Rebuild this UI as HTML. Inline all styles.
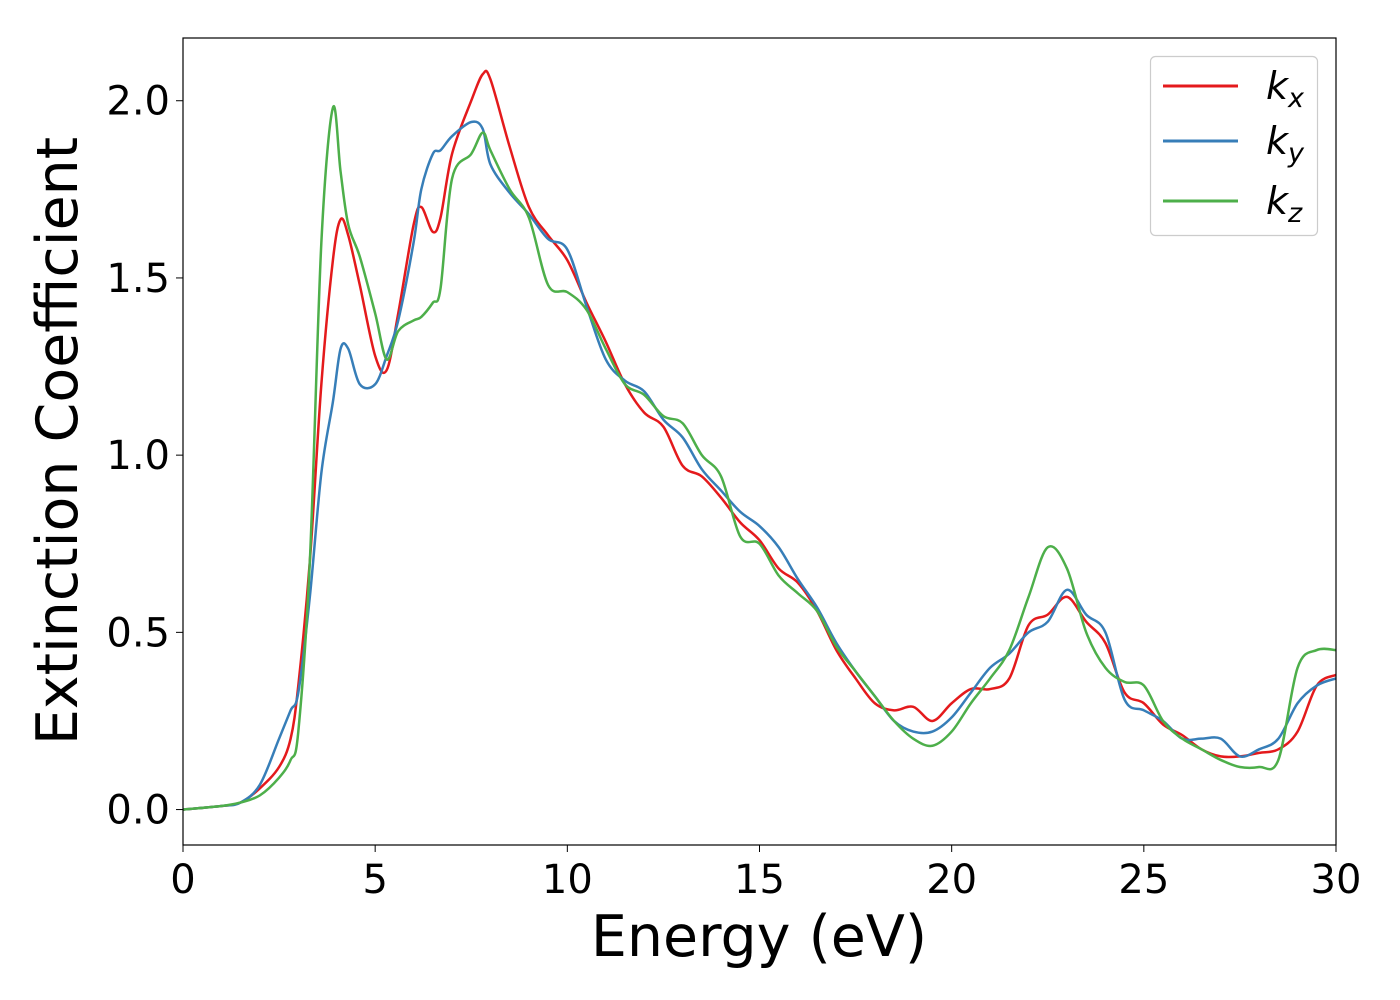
<!DOCTYPE html>
<html><head><meta charset="utf-8"><style>
body{margin:0;background:#fff;}
svg{display:block;font-family:"DejaVu Sans","Liberation Sans",sans-serif;}
</style></head><body>
<svg id="chart" width="1400" height="1000">
<rect x="183" y="38" width="1153" height="807" fill="#fff"/>
<g id="series"></g>
<rect x="183" y="38" width="1153" height="807" fill="none" stroke="#000" stroke-width="1.2"/>
<g id="xticks"></g>
<g id="yticks"></g>
<text x="759" y="956" font-size="57" text-anchor="middle">Energy (eV)</text>
<text transform="translate(77,441) rotate(-90)" font-size="57" text-anchor="middle">Extinction Coefficient</text>
<g>
<rect x="1150.5" y="56.5" width="167" height="179" rx="5" fill="#fff" stroke="#ccc" stroke-width="1.2"/>
<line x1="1163" y1="86" x2="1238" y2="86" stroke="#e41a1c" stroke-width="3"/>
<text x="1266" y="99" font-size="38" font-style="italic">k<tspan font-size="27" dy="8">x</tspan></text>
<line x1="1163" y1="141" x2="1238" y2="141" stroke="#377eb8" stroke-width="3"/>
<text x="1266" y="154" font-size="38" font-style="italic">k<tspan font-size="27" dy="8">y</tspan></text>
<line x1="1163" y1="201" x2="1238" y2="201" stroke="#4daf4a" stroke-width="3"/>
<text x="1266" y="214" font-size="38" font-style="italic">k<tspan font-size="27" dy="8">z</tspan></text>
</g>
</svg>
<script>
const energy=[0,1,1.5,2,2.5,2.8,3,3.3,3.6,3.9,4.1,4.3,4.6,5,5.3,5.6,6,6.2,6.5,6.7,7,7.5,7.8,8,8.5,9,9.5,10,10.5,11,11.5,12,12.5,13,13.5,14,14.5,15,15.5,16,16.5,17,17.5,18,18.5,19,19.5,20,20.5,21,21.5,22,22.5,23,23.5,24,24.5,25,25.5,26,26.5,27,27.5,28,28.5,29,29.5,30];
const kx=[0,0.01,0.02,0.06,0.12,0.2,0.35,0.7,1.2,1.55,1.665,1.62,1.48,1.28,1.24,1.4,1.65,1.70,1.63,1.67,1.85,2.0,2.075,2.06,1.87,1.7,1.62,1.55,1.43,1.32,1.2,1.12,1.08,0.97,0.94,0.88,0.81,0.76,0.68,0.64,0.56,0.45,0.37,0.3,0.28,0.29,0.25,0.3,0.34,0.34,0.37,0.52,0.55,0.6,0.53,0.47,0.33,0.3,0.24,0.21,0.17,0.15,0.15,0.16,0.17,0.22,0.35,0.38];
const ky=[0,0.01,0.02,0.07,0.2,0.28,0.33,0.6,0.95,1.15,1.3,1.3,1.2,1.2,1.28,1.38,1.6,1.75,1.85,1.86,1.9,1.94,1.92,1.82,1.74,1.68,1.61,1.58,1.42,1.27,1.21,1.18,1.1,1.05,0.96,0.9,0.84,0.8,0.74,0.65,0.57,0.47,0.39,0.32,0.25,0.22,0.22,0.26,0.33,0.4,0.44,0.5,0.53,0.62,0.55,0.5,0.31,0.28,0.25,0.2,0.2,0.2,0.15,0.17,0.2,0.3,0.35,0.37];
const kz=[0,0.01,0.02,0.04,0.09,0.14,0.22,0.7,1.6,1.98,1.8,1.65,1.56,1.4,1.27,1.35,1.38,1.39,1.43,1.47,1.78,1.85,1.91,1.86,1.75,1.67,1.48,1.46,1.41,1.3,1.2,1.17,1.11,1.09,1.0,0.94,0.77,0.75,0.66,0.61,0.56,0.46,0.39,0.32,0.25,0.2,0.18,0.22,0.3,0.37,0.45,0.6,0.74,0.68,0.5,0.4,0.36,0.35,0.25,0.2,0.17,0.14,0.12,0.12,0.14,0.4,0.45,0.45];
const xTicks=[0,5,10,15,20,25,30];
const yTicks=[0.0,0.5,1.0,1.5,2.0];
const X0=183,X1=1336,Y0=845,Y1=38,xmin=0,xmax=30,ymin=-0.1,ymax=2.177;
const xs=v=>X0+(v-xmin)/(xmax-xmin)*(X1-X0);
const ys=v=>Y0-(v-ymin)/(ymax-ymin)*(Y0-Y1);
const NS="http://www.w3.org/2000/svg";
function pathFor(vals){
  const p=energy.map((e,i)=>[xs(e),ys(vals[i])]);
  let d="M"+p[0][0]+","+p[0][1];
  for(let i=0;i<p.length-1;i++){
    const a=p[Math.max(i-1,0)],b=p[i],c=p[i+1],e=p[Math.min(i+2,p.length-1)];
    const c1=[b[0]+(c[0]-a[0])/6,b[1]+(c[1]-a[1])/6],c2=[c[0]-(e[0]-b[0])/6,c[1]-(e[1]-b[1])/6];
    d+=" C"+c1+" "+c2+" "+c;
  }
  return d;
}
const sg=document.getElementById("series");
[[kx,"#e41a1c","kx"],[ky,"#377eb8","ky"],[kz,"#4daf4a","kz"]].forEach(s=>{
  const el=document.createElementNS(NS,"path");
  el.setAttribute("d",pathFor(s[0]));
  el.setAttribute("fill","none");el.setAttribute("stroke",s[1]);el.setAttribute("stroke-width","2.5");
  
  
  sg.appendChild(el);
});
const xg=document.getElementById("xticks");
xTicks.forEach(t=>{
  const l=document.createElementNS(NS,"line");
  l.setAttribute("x1",xs(t));l.setAttribute("x2",xs(t));l.setAttribute("y1",845);l.setAttribute("y2",852);l.setAttribute("stroke","#000");
  
  
  xg.appendChild(l);
  const tx=document.createElementNS(NS,"text");
  tx.setAttribute("x",xs(t));tx.setAttribute("y",893);tx.setAttribute("font-size","40");tx.setAttribute("text-anchor","middle");
  tx.textContent=t;
  
  
  xg.appendChild(tx);
});
const yg=document.getElementById("yticks");
yTicks.forEach(t=>{
  const l=document.createElementNS(NS,"line");
  l.setAttribute("x1",176);l.setAttribute("x2",183);l.setAttribute("y1",ys(t));l.setAttribute("y2",ys(t));l.setAttribute("stroke","#000");
  
  
  yg.appendChild(l);
  const tx=document.createElementNS(NS,"text");
  tx.setAttribute("x",170);tx.setAttribute("y",ys(t)+14);tx.setAttribute("font-size","40");tx.setAttribute("text-anchor","end");
  tx.textContent=t.toFixed(1);
  
  
  yg.appendChild(tx);
});
</script>
</body></html>
